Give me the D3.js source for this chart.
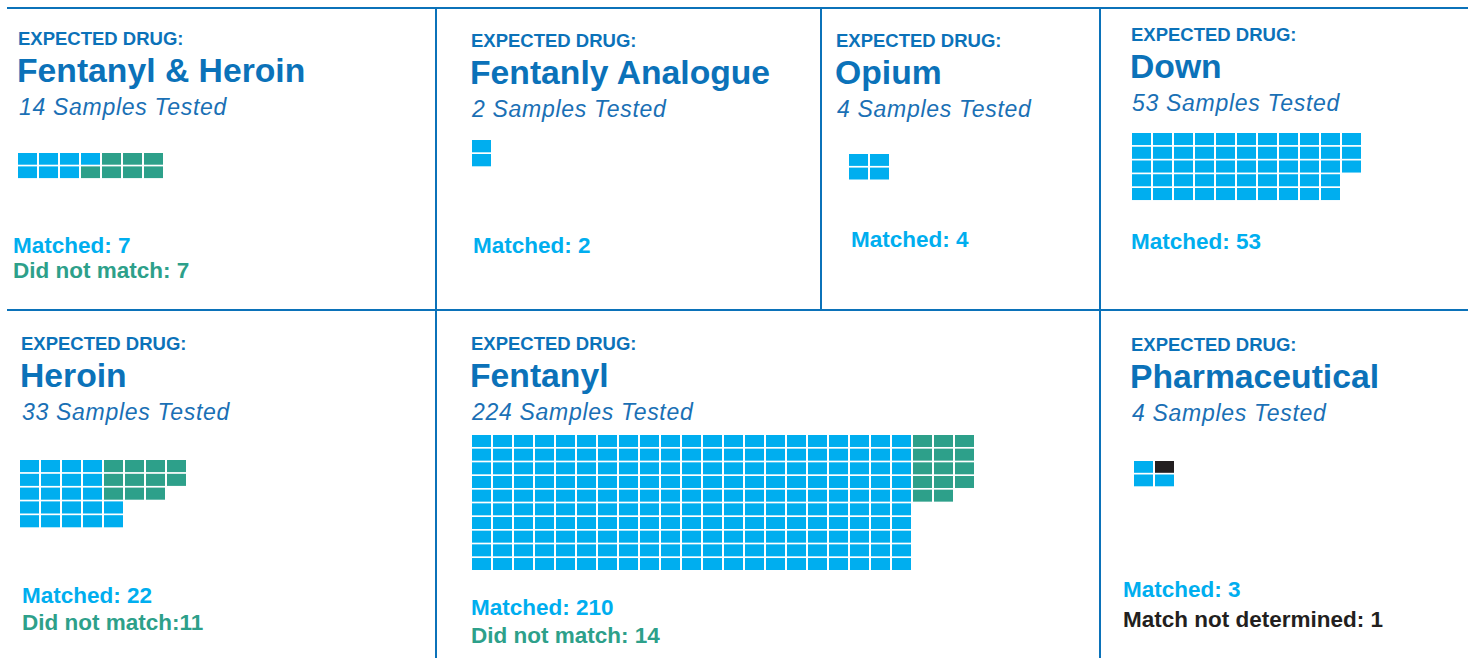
<!DOCTYPE html>
<html>
<head>
<meta charset="utf-8">
<script src="https://cdn.jsdelivr.net/npm/d3@7"></script>
<style>
  body { margin: 0; background: #fff; }
  text { font-family: "Liberation Sans", Arial, sans-serif; }
</style>
</head>
<body>
<script>
// ==== data ====
let drugs = ["Fentanyl & Heroin", "Fentanly Analogue", "Opium", "Down",
             "Heroin", "Fentanyl", "Pharmaceutical"];
let matched = [7, 2, 4, 53, 22, 210, 3];
let notMatched = [7, 0, 0, 0, 11, 14, 0];
let notDetermined = [0, 0, 0, 0, 0, 0, 1];
let missSep = [" ", " ", " ", " ", "", " ", " "];
let headerLabel = "EXPECTED DRUG:";

// Width and height
let w = 1468;
let h = 658;

let darkBlue = "#0b72b9";
let cyan = "#00aeef";
let green = "#2da08a";
let black = "#231f20";

// ==== panel layout (positions only) ====
// tx/ty: text x / header baseline, gx/gy: grid corner, px/py: cell pitch
// rows: rows of the matched block, rows2: rows of the second block
let layout = [
  {tx: 18,   ty: 45,  gx: 18,   gy: 153, px: 21, py: 13.4, rows: 2,  rows2: 2, align: "top",    lx: 13,   ly: 253, ly2: 278},
  {tx: 471,  ty: 47,  gx: 472,  gy: 140, px: 21, py: 14,   rows: 2,  rows2: 2, align: "top",    lx: 473,  ly: 253, ly2: 279},
  {tx: 836,  ty: 47,  gx: 849,  gy: 154, px: 21, py: 13.6, rows: 2,  rows2: 2, align: "top",    lx: 851,  ly: 247, ly2: 273},
  {tx: 1131, ty: 41,  gx: 1132, gy: 133, px: 21, py: 13.75,rows: 5,  rows2: 5, align: "top",    lx: 1131, ly: 249, ly2: 275},
  {tx: 21,   ty: 350, gx: 20,   gy: 460, px: 21, py: 13.8, rows: 5,  rows2: 3, align: "bottom", lx: 22,   ly: 603, ly2: 630},
  {tx: 471,  ty: 350, gx: 472,  gy: 435, px: 21, py: 13.67,rows: 10, rows2: 5, align: "top",    lx: 471,  ly: 615, ly2: 643},
  {tx: 1131, ty: 351, gx: 1134, gy: 461, px: 21, py: 13.5, rows: 2,  rows2: 2, align: "bottom", lx: 1123, ly: 597, ly2: 627}
];

let svg = d3.select("body")
            .append("svg")
            .attr("width", w)
            .attr("height", h);

//====frame lines====//
let lines = [
  [7, 8, w, 8], [7, 310, w, 310],
  [436, 8, 436, h], [821, 8, 821, 310], [1100, 8, 1100, h]
];
svg.selectAll("line.frame")
   .data(lines)
   .enter()
   .append("line")
   .attr("class", "frame")
   .attr("x1", function(d){ return d[0]; })
   .attr("y1", function(d){ return d[1]; })
   .attr("x2", function(d){ return d[2]; })
   .attr("y2", function(d){ return d[3]; })
   .attr("stroke", darkBlue)
   .attr("stroke-width", 2);

// build the waffle cells of one panel: matched block first (column-major),
// then the second block fills the free cells from the first open column
function waffle(i) {
  let L = layout[i];
  let cells = [];
  let taken = {};
  let n = matched[i];
  let fullCols = Math.floor(n / L.rows);
  let rest = n % L.rows;
  for (let c = 0; c < fullCols; c++) {
    for (let r = 0; r < L.rows; r++) {
      cells.push({c: c, r: r, k: "m"});
      taken[c + "_" + r] = true;
    }
  }
  for (let j = 0; j < rest; j++) {
    let r = L.align == "top" ? j : L.rows - 1 - j;
    cells.push({c: fullCols, r: r, k: "m"});
    taken[fullCols + "_" + r] = true;
  }
  let second = notMatched[i] > 0 ? notMatched[i] : notDetermined[i];
  let kind = notMatched[i] > 0 ? "n" : "u";
  let c = fullCols;
  let placed = 0;
  while (placed < second) {
    for (let r = 0; r < L.rows2 && placed < second; r++) {
      if (!taken[c + "_" + r]) {
        cells.push({c: c, r: r, k: kind});
        placed++;
      }
    }
    c++;
  }
  return cells;
}

let colour = {m: cyan, n: green, u: black};

drugs.forEach(function(name, i) {
  let L = layout[i];
  let g = svg.append("g");

  g.append("text")
   .text(headerLabel)
   .attr("x", L.tx)
   .attr("y", L.ty)
   .attr("font-size", "18.5px")
   .attr("font-weight", "bold")
   .attr("fill", darkBlue);

  g.append("text")
   .text(name)
   .attr("x", L.tx - 1)
   .attr("y", L.ty + 37)
   .attr("font-size", "33.7px")
   .attr("font-weight", "bold")
   .attr("fill", darkBlue);

  g.append("text")
   .text((matched[i] + notMatched[i] + notDetermined[i]) + " Samples Tested")
   .attr("x", L.tx + 1)
   .attr("y", L.ty + 70)
   .attr("font-size", "23px")
   .attr("font-style", "italic")
   .attr("letter-spacing", "0.7px")
   .attr("fill", "#1a70b5");

  let cells = waffle(i);
  let maxC = d3.max(cells, function(d){ return d.c; }) + 1;
  let x = d3.scaleLinear().domain([0, maxC]).range([L.gx, L.gx + maxC * L.px]);
  let y = d3.scaleLinear().domain([0, L.rows]).range([L.gy, L.gy + L.rows * L.py]);

  g.selectAll("rect")
   .data(cells)
   .enter()
   .append("rect")
   .attr("x", function(d){ return x(d.c); })
   .attr("y", function(d){ return y(d.r); })
   .attr("width", L.px - 2)
   .attr("height", L.py - 1.7)
   .attr("fill", function(d){ return colour[d.k]; });

  g.append("text")
   .text("Matched: " + matched[i])
   .attr("x", L.lx)
   .attr("y", L.ly)
   .attr("font-size", "22.5px")
   .attr("font-weight", "bold")
   .attr("fill", cyan);

  if (notMatched[i] > 0) {
    g.append("text")
     .text("Did not match:" + missSep[i] + notMatched[i])
     .attr("x", L.lx)
     .attr("y", L.ly2)
     .attr("font-size", "22.5px")
     .attr("font-weight", "bold")
     .attr("fill", green);
  }
  if (notDetermined[i] > 0) {
    g.append("text")
     .text("Match not determined: " + notDetermined[i])
     .attr("x", L.lx)
     .attr("y", L.ly2)
     .attr("font-size", "22.5px")
     .attr("font-weight", "bold")
     .attr("fill", black);
  }
});
</script>
</body>
</html>
